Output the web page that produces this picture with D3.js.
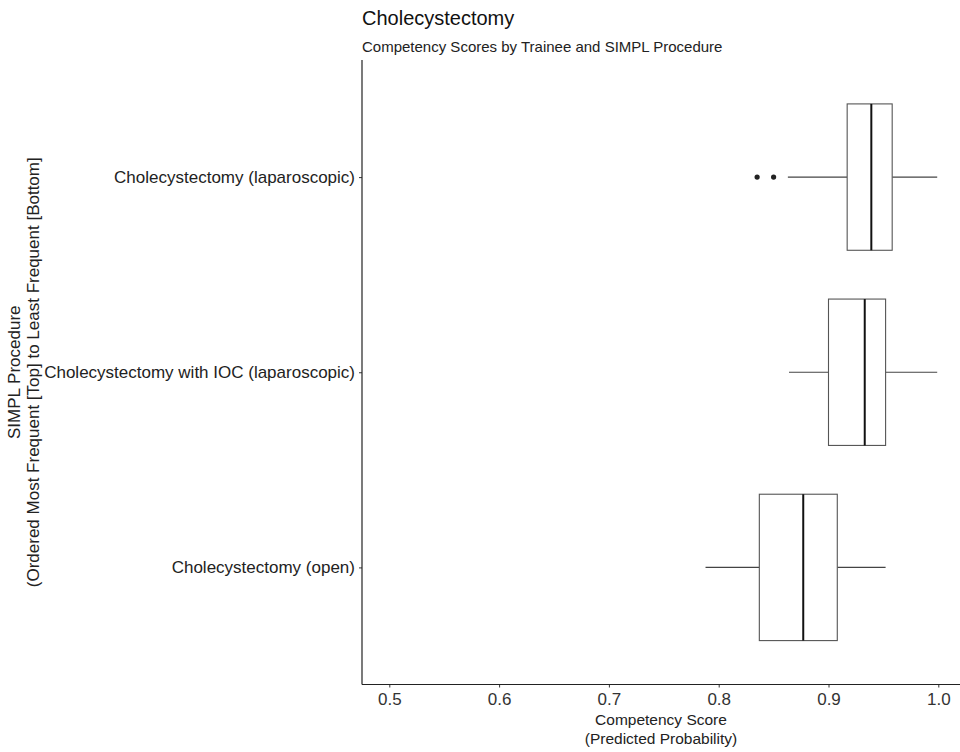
<!DOCTYPE html>
<html><head><meta charset="utf-8">
<script src="https://cdn.jsdelivr.net/npm/d3@7"></script>
<style>body{margin:0;background:#fff}svg{display:block}text{font-family:"Liberation Sans",Arial,sans-serif}</style>
</head><body><svg id="c" width="960" height="752"></svg>
<script>
const categories = ["Cholecystectomy (laparoscopic)", "Cholecystectomy with IOC (laparoscopic)", "Cholecystectomy (open)"];
const whiskerLow = [0.863, 0.864, 0.788];
const q1 = [0.917, 0.900, 0.837];
const median = [0.939, 0.933, 0.877];
const q3 = [0.958, 0.952, 0.908];
const whiskerHigh = [0.999, 0.999, 0.952];
const outliers = [[0.835, 0.850], [], []];
const xTicks = [0.5, 0.6, 0.7, 0.8, 0.9, 1.0];

const svg = d3.select("#c");
const L = 362, R = 960, T = 60, B = 684.5;
const x = d3.scaleLinear().domain([0.5, 1.0]).range([389.3, 938.3]);
const y = d3.scalePoint().domain(categories).range([T, B]).padding(0.6);
const step = y.step();
const bh = step * 0.75;

// axes
const xa = svg.append("g").attr("transform", `translate(0,${B})`)
  .call(d3.axisBottom(x).tickValues(xTicks).tickFormat(d3.format(".1f")).tickSize(3).tickPadding(5));
xa.select(".domain").remove();
xa.selectAll("line").attr("stroke", "#333");
xa.selectAll("text").attr("font-size", 17).attr("fill", "#333");
svg.append("line").attr("x1", L).attr("x2", R).attr("y1", B).attr("y2", B).attr("stroke", "#222").attr("stroke-width", 1.2);

const ya = svg.append("g").attr("transform", `translate(${L},0)`)
  .call(d3.axisLeft(y).tickSize(3).tickPadding(4));
ya.select(".domain").remove();
ya.selectAll("line").attr("stroke", "#333");
ya.selectAll("text").attr("font-size", 17).attr("fill", "#222");
svg.append("line").attr("x1", L).attr("x2", L).attr("y1", T).attr("y2", B).attr("stroke", "#222").attr("stroke-width", 1.2);

// boxes
const g = svg.append("g");
categories.forEach((c, i) => {
  const cy = y(c);
  g.append("line").attr("x1", x(whiskerLow[i])).attr("x2", x(q1[i])).attr("y1", cy).attr("y2", cy).attr("stroke", "#444").attr("stroke-width", 1.1);
  g.append("line").attr("x1", x(q3[i])).attr("x2", x(whiskerHigh[i])).attr("y1", cy).attr("y2", cy).attr("stroke", "#444").attr("stroke-width", 1.1);
  g.append("rect").attr("x", x(q1[i])).attr("width", x(q3[i]) - x(q1[i])).attr("y", cy - bh / 2).attr("height", bh)
    .attr("fill", "#fff").attr("stroke", "#555").attr("stroke-width", 1.1);
  g.append("line").attr("x1", x(median[i])).attr("x2", x(median[i])).attr("y1", cy - bh / 2).attr("y2", cy + bh / 2).attr("stroke", "#111").attr("stroke-width", 2);
  outliers[i].forEach(v => g.append("circle").attr("cx", x(v)).attr("cy", cy).attr("r", 2.6).attr("fill", "#222"));
});

// titles
svg.append("text").attr("x", 362).attr("y", 25).attr("font-size", 20).attr("fill", "#111").text("Cholecystectomy");
svg.append("text").attr("x", 362).attr("y", 52).attr("font-size", 15).attr("fill", "#222").text("Competency Scores by Trainee and SIMPL Procedure");

const cx = (L + R) / 2;
svg.append("text").attr("x", cx).attr("y", 725).attr("text-anchor", "middle").attr("font-size", 15.5).attr("fill", "#222").text("Competency Score");
svg.append("text").attr("x", cx).attr("y", 744).attr("text-anchor", "middle").attr("font-size", 15.5).attr("fill", "#222").text("(Predicted Probability)");

const cyMid = (T + B) / 2;
const yt = svg.append("text").attr("transform", `translate(20,${cyMid}) rotate(-90)`).attr("text-anchor", "middle").attr("font-size", 17).attr("fill", "#222");
yt.append("tspan").attr("x", 0).attr("dy", 0).text("SIMPL Procedure");
yt.append("tspan").attr("x", 0).attr("dy", 19).text("(Ordered Most Frequent [Top] to Least Frequent [Bottom]");
</script></body></html>
